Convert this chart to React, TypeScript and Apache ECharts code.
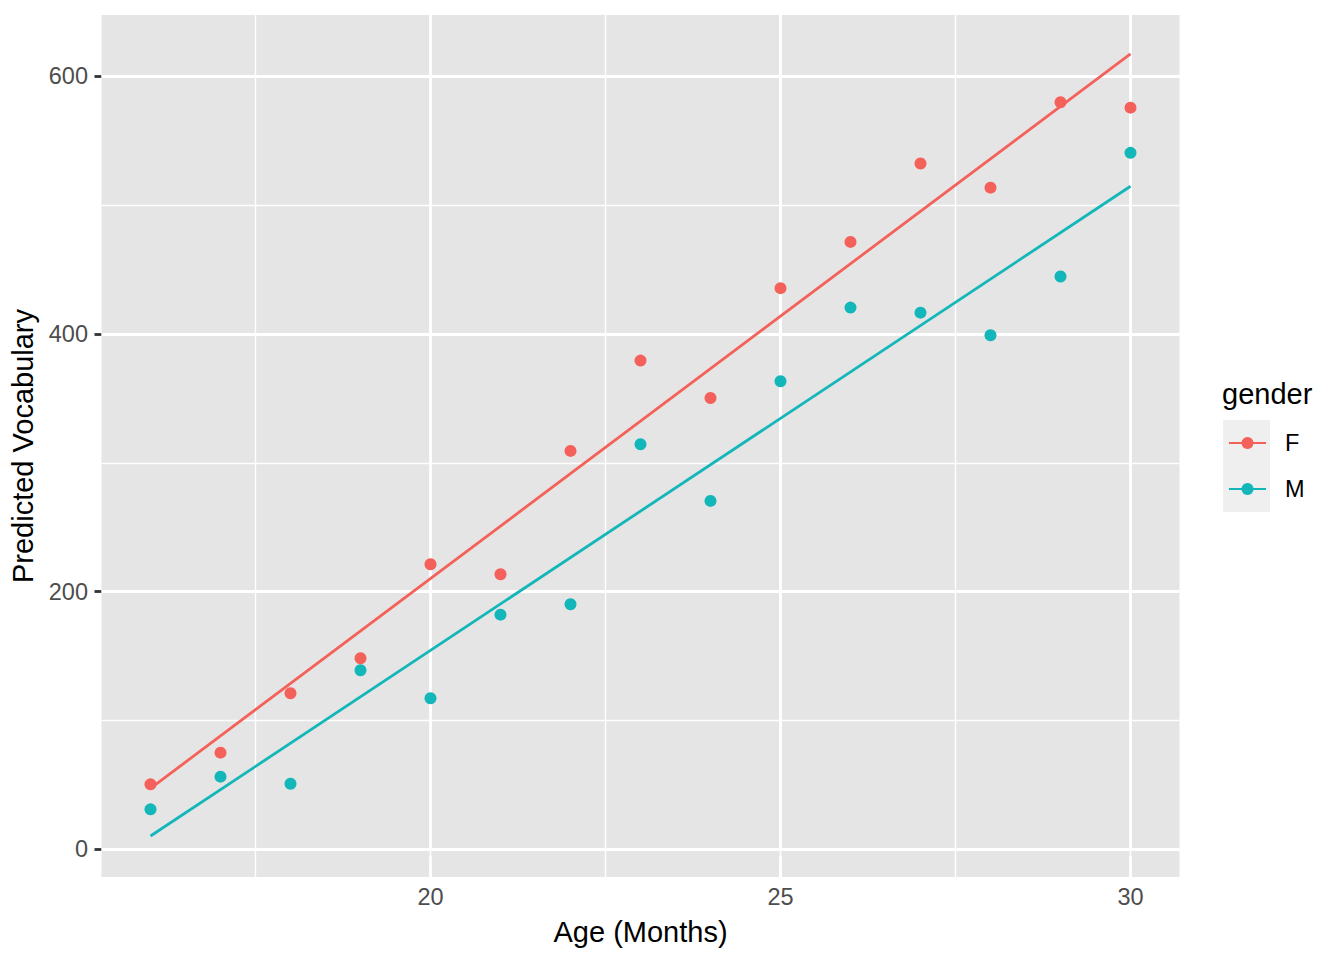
import React, { useEffect, useRef } from "react";
import * as echarts from "echarts";

// Ages (months)
const ages = [16, 17, 18, 19, 20, 21, 22, 23, 24, 25, 26, 27, 28, 29, 30];
// Predicted vocabulary by gender (points)
const femaleVocab = [50.4, 75.0, 121.1, 148.3, 221.2, 213.5, 309.2, 379.3, 350.3, 435.5, 471.4, 532.2, 513.5, 579.8, 575.6];
const maleVocab = [31.0, 56.4, 50.9, 139.0, 117.2, 182.1, 190.2, 314.4, 270.4, 363.3, 420.4, 416.5, 399.0, 444.5, 540.5];
// Fitted line endpoints [age, vocab]
const femaleFit = [[16, 47.3], [30, 617.3]];
const maleFit = [[16, 10.3], [30, 514.6]];

// Axis ticks
const xMajorTicks = [20, 25, 30];
const xMinorTicks = [17.5, 22.5, 27.5];
const yMajorTicks = [0, 200, 400, 600];
const yMinorTicks = [100, 300, 500];
const xRange = [15.3, 30.7];
const yRange = [-21.5, 647.5];

const genders = ["F", "M"];
const colors = ["#F4615B", "#13B6B9"];

const FONT = "'Liberation Sans', Arial, Helvetica, sans-serif";

export default function App() {
  const ref = useRef<HTMLDivElement>(null);

  useEffect(() => {
    document.body.style.margin = "0";
    if (!ref.current) return;
    const chart = echarts.init(ref.current, null, { renderer: "svg" });

    const gridMarkLines = [
      ...xMajorTicks.map((v) => ({ xAxis: v, lineStyle: { width: 2.8 } })),
      ...xMinorTicks.map((v) => ({ xAxis: v, lineStyle: { width: 1.4 } })),
      ...yMajorTicks.map((v) => ({ yAxis: v, lineStyle: { width: 2.8 } })),
      ...yMinorTicks.map((v) => ({ yAxis: v, lineStyle: { width: 1.4 } })),
    ];

    const option: any = {
      animation: false,
      textStyle: { fontFamily: FONT },
      title: {
        text: "gender",
        left: 1222,
        top: 379,
        padding: 0,
        textStyle: { fontSize: 29, fontWeight: "normal", color: "#000000", fontFamily: FONT },
      },
      graphic: [
        {
          type: "rect",
          shape: { x: 1223, y: 420, width: 47, height: 92 },
          style: { fill: "#EFEFEF" },
          z: 0,
          silent: true,
        },
      ],
      legend: {
        data: genders,
        orient: "vertical",
        left: 1228,
        top: 431,
        padding: 0,
        itemWidth: 37,
        itemHeight: 15,
        itemGap: 22,
        selectedMode: false,
        textStyle: { fontSize: 23.5, color: "#000000", fontFamily: FONT, padding: [0, 0, 0, 14] },
        z: 5,
      },
      grid: {
        left: 101.5,
        top: 15,
        width: 1078,
        height: 862,
        show: true,
        backgroundColor: "#E5E5E5",
        borderWidth: 0,
      },
      xAxis: {
        type: "value",
        min: xRange[0],
        max: xRange[1],
        axisLine: { show: false },
        axisTick: { show: true, length: 7, lineStyle: { color: "#333333", width: 2.8 }, customValues: xMajorTicks },
        axisLabel: { customValues: xMajorTicks, fontSize: 23.5, color: "#4D4D4D", margin: 8, fontFamily: FONT },
        splitLine: { show: false },
        name: "Age (Months)",
        nameLocation: "middle",
        nameGap: 40,
        nameTextStyle: { fontSize: 29, color: "#000000", fontFamily: FONT },
      },
      yAxis: {
        type: "value",
        min: yRange[0],
        max: yRange[1],
        axisLine: { show: false },
        axisTick: { show: true, length: 7, lineStyle: { color: "#333333", width: 2.8 }, customValues: yMajorTicks },
        axisLabel: { customValues: yMajorTicks, fontSize: 23.5, color: "#4D4D4D", margin: 13.5, fontFamily: FONT },
        splitLine: { show: false },
        name: "Predicted Vocabulary",
        nameLocation: "middle",
        nameGap: 61,
        nameTextStyle: { fontSize: 29, color: "#000000", fontFamily: FONT },
      },
      series: [
        {
          name: "F",
          type: "line",
          data: femaleFit,
          symbol: "none",
          lineStyle: { color: colors[0], width: 2.8 },
          itemStyle: { color: colors[0] },
          z: 3,
          silent: true,
        },
        {
          name: "M",
          type: "line",
          data: maleFit,
          symbol: "none",
          lineStyle: { color: colors[1], width: 2.8 },
          itemStyle: { color: colors[1] },
          z: 3,
          silent: true,
        },
        {
          name: "F",
          type: "scatter",
          data: ages.map((a, i) => [a, femaleVocab[i]]),
          symbolSize: 12,
          itemStyle: { color: colors[0], opacity: 1 },
          z: 4,
        },
        {
          name: "M",
          type: "scatter",
          data: ages.map((a, i) => [a, maleVocab[i]]),
          symbolSize: 12,
          itemStyle: { color: colors[1], opacity: 1 },
          z: 4,
        },
        {
          name: "grid-lines",
          type: "scatter",
          data: [],
          z: 1,
          silent: true,
          markLine: {
            silent: true,
            symbol: ["none", "none"],
            label: { show: false },
            emphasis: { disabled: true },
            lineStyle: { color: "#FFFFFF", type: "solid" },
            z: 1,
            animation: false,
            data: gridMarkLines,
          },
        },
      ],
    };

    chart.setOption(option);
    return () => chart.dispose();
  }, []);

  return <div ref={ref} style={{ width: 1344, height: 960 }} />;
}
